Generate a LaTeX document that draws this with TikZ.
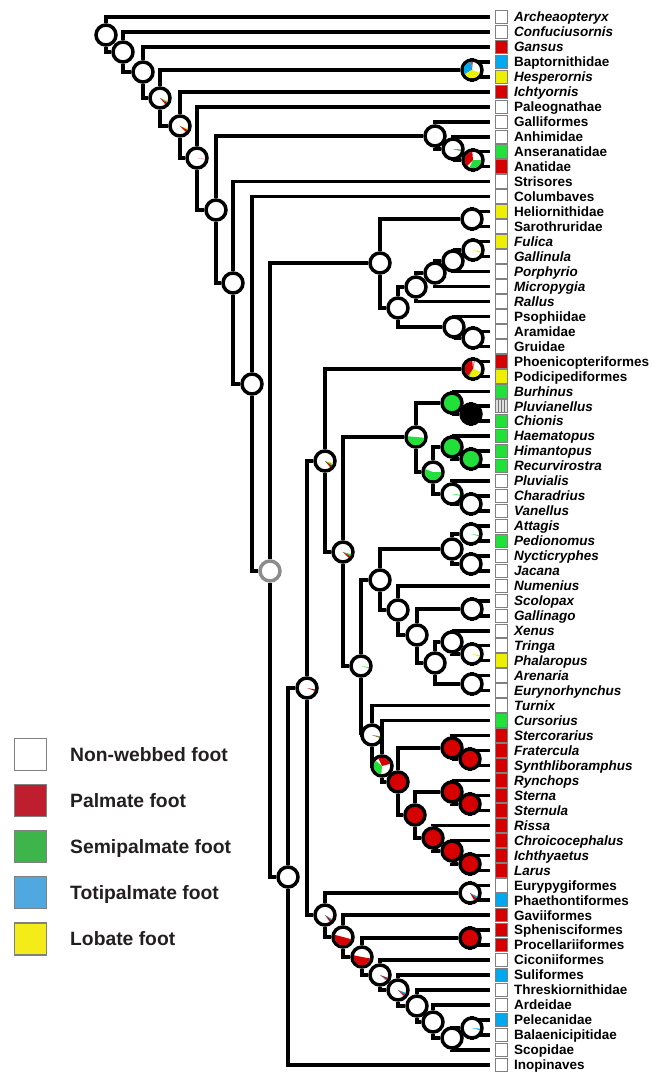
\documentclass[tikz,border=0pt]{standalone}
\usepackage{fontspec}
\setmainfont{Liberation Sans}
\usepackage{tikz}
\usetikzlibrary{patterns}
\definecolor{pred}{HTML}{D70000}
\definecolor{pgreen}{HTML}{22E03A}
\definecolor{pblue}{HTML}{00A8F0}
\definecolor{pyellow}{HTML}{EEEE00}
\definecolor{lred}{HTML}{BE1E2D}
\definecolor{lgreen}{HTML}{3DB54A}
\definecolor{lblue}{HTML}{4FA9E0}
\definecolor{lyellow}{HTML}{F3EC19}
\definecolor{ltext}{HTML}{231F20}
\pgfdeclarelayer{background}
\pgfsetlayers{background,main}

\tikzstyle{branch} = [draw, line width=3.5pt]
\tikzstyle{nd} = [circle, draw, fill=white, line width=3.5pt, minimum size=20pt, inner sep=0pt]
\tikzstyle{tipbox} = [rectangle, draw=gray, line width=1pt, minimum width=12.5pt,
minimum height=13.5pt, inner sep=0pt, outer xsep=5.5pt]
\tikzstyle{tiplab} = [anchor=base west, inner sep=0pt, font=\fontsize{13.5}{15}\selectfont\bfseries]
\tikzstyle{legbox} = [rectangle, draw=gray, line width=1.2pt, minimum size=32pt, inner sep=0pt]
\tikzstyle{leglab} = [anchor=base west, inner sep=0pt, text=ltext, font=\fontsize{19.3}{21}\selectfont\bfseries]
% pie slice inside a node circle
\newcommand{\pw}[4]{\fill[#4] (#1.center) -- ++(#2:8.3pt) arc[start angle=#2, end angle=#3, radius=8.3pt] -- cycle;}

\begin{document}
\begin{tikzpicture}[x=1pt, y=1pt]
	\useasboundingbox (0,0) rectangle (651,-1074);
	
	% Tips
	\foreach \lab/\col [count=\i] in {\textit{Archeaopteryx}/white, \textit{Confuciusornis}/white,
		\textit{Gansus}/pred, Baptornithidae/pblue, \textit{Hesperornis}/pyellow, \textit{Ichtyornis}/pred,
		Paleognathae/white, Galliformes/white, Anhimidae/white, Anseranatidae/pgreen, Anatidae/pred,
		Strisores/white, Columbaves/white, Heliornithidae/pyellow, Sarothruridae/white,
		\textit{Fulica}/pyellow, \textit{Gallinula}/white, \textit{Porphyrio}/white, \textit{Micropygia}/white,
		\textit{Rallus}/white, Psophiidae/white, Aramidae/white, Gruidae/white,
		Phoenicopteriformes/pred, Podicipediformes/pyellow, \textit{Burhinus}/pgreen,
		\textit{Pluvianellus}/gray!25, \textit{Chionis}/pgreen, \textit{Haematopus}/pgreen,
		\textit{Himantopus}/pgreen, \textit{Recurvirostra}/pgreen, \textit{Pluvialis}/white,
		\textit{Charadrius}/white, \textit{Vanellus}/white, \textit{Attagis}/white, \textit{Pedionomus}/pgreen,
		\textit{Nycticryphes}/white, \textit{Jacana}/white, \textit{Numenius}/white, \textit{Scolopax}/white,
		\textit{Gallinago}/white, \textit{Xenus}/white, \textit{Tringa}/white, \textit{Phalaropus}/pyellow,
		\textit{Arenaria}/white, \textit{Eurynorhynchus}/white, \textit{Turnix}/white, \textit{Cursorius}/pgreen,
		\textit{Stercorarius}/pred, \textit{Fratercula}/pred, \textit{Synthliboramphus}/pred,
		\textit{Rynchops}/pred, \textit{Sterna}/pred, \textit{Sternula}/pred, \textit{Rissa}/pred,
		\textit{Chroicocephalus}/pred, \textit{Ichthyaetus}/pred, \textit{Larus}/pred,
		Eurypygiformes/white, Phaethontiformes/pblue, Gaviiformes/pred, Sphenisciformes/pred,
		Procellariiformes/pred, Ciconiiformes/white, Suliformes/pblue, Threskiornithidae/white,
		Ardeidae/white, Pelecanidae/pblue, Balaenicipitidae/white, Scopidae/white, Inopinaves/white} {
		\pgfmathsetmacro{\yy}{17+14.97*(\i-1)}
		\node [tipbox, fill=\col] (t\i) at (501.5,-\yy) {};
		\node [tiplab] (l\i) at (514,-\yy-4.8) {\lab};
	}
	\node [tipbox, pattern=vertical lines, pattern color=gray!90!black] at (t27.center) {};
	
	% Internal nodes
	\node [nd] (N1) at (106,-35) {};
	\node [nd] (N2) at (123,-52) {};
	\node [nd] (N3) at (143,-72) {};
	\node [nd] (N4) at (160,-98) {};
	\node [nd] (H) at (472,-70) {};
	\node [nd] (N5) at (180,-126) {};
	\node [nd] (N6) at (197,-158) {};
	\node [nd] (N7) at (216,-210) {};
	\node [nd] (G) at (435,-136) {};
	\node [nd] (G2) at (453,-149) {};
	\node [nd] (G3) at (473,-160) {};
	\node [nd] (N8) at (233,-283) {};
	\node [nd] (N9) at (252,-384) {};
	\node [nd, draw=black!45] (N10) at (270,-571) {};
	\node [nd] (R) at (380,-263) {};
	\node [nd] (R1) at (472,-219) {};
	\node [nd] (R2) at (398,-308) {};
	\node [nd] (R3) at (416,-287) {};
	\node [nd] (R4) at (435,-273) {};
	\node [nd] (R5) at (453,-261) {};
	\node [nd] (R6) at (473,-250) {};
	\node [nd] (R7) at (454,-327) {};
	\node [nd] (R8) at (473,-338) {};
	\node [nd] (N11) at (288,-877) {};
	\node [nd] (N12) at (307,-688) {};
	\node [nd] (M) at (325,-461) {};
	\node [nd] (Mir) at (473,-369) {};
	\node [nd] (C1) at (343,-552) {};
	\node [nd] (C2) at (416,-437) {};
	\node [nd, fill=pgreen] (B1) at (452,-403) {};
	\node [nd, fill=black] (B2) at (471,-414) {};
	\node [nd] (C2b) at (433,-472) {};
	\node [nd, fill=pgreen] (Hm) at (452,-447) {};
	\node [nd, fill=pgreen] (HR) at (471,-459) {};
	\node [nd] (P) at (452,-494) {};
	\node [nd] (CV) at (471,-504) {};
	\node [nd] (C3) at (361,-666) {};
	\node [nd] (S0) at (380,-580) {};
	\node [nd] (J0) at (452,-549) {};
	\node [nd] (J1) at (471,-534) {};
	\node [nd] (J2) at (471,-564) {};
	\node [nd] (S1) at (398,-610) {};
	\node [nd] (S2) at (417,-635) {};
	\node [nd] (S3) at (472,-609) {};
	\node [nd] (S4) at (435,-663) {};
	\node [nd] (S5) at (452,-642) {};
	\node [nd] (S6) at (472,-654) {};
	\node [nd] (S7) at (472,-684) {};
	\node [nd] (L0) at (372,-735) {};
	\node [nd] (L1) at (382,-766) {};
	\node [nd, fill=pred] (L2) at (398,-782) {};
	\node [nd, fill=pred] (A1) at (452,-748) {};
	\node [nd, fill=pred] (A2) at (470,-759) {};
	\node [nd, fill=pred] (L3) at (415,-815) {};
	\node [nd, fill=pred] (T1) at (452,-792) {};
	\node [nd, fill=pred] (T2) at (470,-804) {};
	\node [nd, fill=pred] (L4) at (433,-838) {};
	\node [nd, fill=pred] (L5) at (452,-851) {};
	\node [nd, fill=pred] (L6) at (470,-864) {};
	\node [nd] (N13) at (325,-915) {};
	\node [nd] (E) at (470,-893) {};
	\node [nd] (Aq1) at (343,-937) {};
	\node [nd, fill=pred] (SP) at (470,-938) {};
	\node [nd] (Aq2) at (362,-957) {};
	\node [nd] (Aq3) at (380,-975) {};
	\node [nd] (Aq4) at (398,-990) {};
	\node [nd] (Aq5) at (417,-1006) {};
	\node [nd] (Aq6) at (433,-1022) {};
	\node [nd] (Aq7) at (452,-1038) {};
	\node [nd] (PB) at (472,-1028) {};
	
	% Branches
	\begin{pgfonlayer}{background}
	\foreach \a/\b in {N1/t1, N1/N2, N2/t2, N2/N3, N3/t3, N3/N4, N4/H, N4/N5, H/t4, H/t5,
		N5/t6, N5/N6, N6/t7, N6/N7, N7/G, N7/N8, G/t8, G/G2, G2/t9, G2/G3, G3/t10, G3/t11,
		N8/t12, N8/N9, N9/t13, N9/N10, N10/R, N10/N11, R/R1, R/R2, R1/t14, R1/t15,
		R2/R3, R2/R7, R3/R4, R3/t20, R4/R5, R4/t19, R5/R6, R5/t18, R6/t16, R6/t17,
		R7/t21, R7/R8, R8/t22, R8/t23, N11/N12, N11/t71, N12/M, N12/N13, M/Mir, M/C1,
		Mir/t24, Mir/t25, C1/C2, C1/C3, C2/B1, C2/C2b, B1/t26, B1/B2, B2/t27, B2/t28,
		C2b/Hm, C2b/P, Hm/t29, Hm/HR, HR/t30, HR/t31, P/t32, P/CV, CV/t33, CV/t34,
		C3/S0, C3/L0, S0/J0, S0/S1, J0/J1, J0/J2, J1/t35, J1/t36, J2/t37, J2/t38,
		S1/t39, S1/S2, S2/S3, S2/S4, S3/t40, S3/t41, S4/S5, S4/S7, S5/t42, S5/S6,
		S6/t43, S6/t44, S7/t45, S7/t46, L0/t47, L0/L1, L1/t48, L1/L2, L2/A1, L2/L3,
		A1/t49, A1/A2, A2/t50, A2/t51, L3/T1, L3/L4, T1/t52, T1/T2, T2/t53, T2/t54,
		L4/t55, L4/L5, L5/t56, L5/L6, L6/t57, L6/t58, N13/E, N13/Aq1, E/t59, E/t60,
		Aq1/t61, Aq1/Aq2, Aq2/SP, Aq2/Aq3, SP/t62, SP/t63, Aq3/t64, Aq3/Aq4,
		Aq4/t65, Aq4/Aq5, Aq5/t66, Aq5/Aq6, Aq6/t67, Aq6/Aq7, Aq7/PB, Aq7/t70,
		PB/t68, PB/t69}
		\path [branch] (\a) |- (\b);
	\end{pgfonlayer}
	
	% Ancestral state pies
	\pw{H}{95}{210}{pblue}
	\pw{H}{210}{340}{pyellow}
	\pw{H}{85}{95}{pred}
	\pw{G3}{95}{225}{pred}
	\pw{G3}{245}{360}{pgreen}
	\pw{G2}{-5}{-12}{pred}
	\pw{G2}{-12}{-16}{pgreen}
	\pw{N4}{-20}{-28}{pyellow}
	\pw{N4}{-28}{-36}{pblue}
	\pw{N4}{-36}{-50}{pred}
	\pw{N5}{-20}{-28}{pyellow}
	\pw{N5}{-28}{-45}{pred}
	\pw{N6}{-5}{-12}{pred!40}
	\pw{R6}{-10}{-20}{pyellow}
	\pw{Mir}{95}{235}{pred}
	\pw{Mir}{235}{240}{pgreen}
	\pw{Mir}{240}{245}{pblue}
	\pw{Mir}{245}{340}{pyellow}
	\pw{Mir}{78}{84}{pred}
	\pw{M}{-15}{-22}{pyellow}
	\pw{M}{-22}{-35}{pgreen}
	\pw{M}{-35}{-50}{pred}
	\pw{N12}{-10}{-20}{pred}
	\pw{C1}{-15}{-30}{pgreen}
	\pw{C1}{-30}{-45}{pred}
	\pw{C2}{175}{355}{pgreen}
	\pw{C2b}{160}{360}{pgreen}
	\pw{P}{-5}{-12}{pgreen}
	\pw{J1}{-8}{-15}{pgreen}
	\pw{C3}{-8}{-15}{pgreen}
	\pw{S6}{-10}{-20}{pyellow}
	\pw{L0}{-8}{-15}{pgreen}
	\pw{L0}{-15}{-20}{pred}
	\pw{L1}{15}{115}{pred}
	\pw{L1}{140}{265}{pgreen}
	\pw{N13}{-30}{-40}{pblue}
	\pw{N13}{-40}{-55}{pred}
	\pw{E}{-25}{-40}{pblue}
	\pw{E}{-40}{-60}{pred}
	\pw{Aq1}{165}{345}{pred}
	\pw{Aq2}{168}{350}{pred}
	\pw{Aq3}{-20}{-35}{pred}
	\pw{Aq3}{-35}{-42}{pblue}
	\pw{Aq4}{-20}{-35}{pblue}
	\pw{Aq4}{-35}{-45}{pred}
	\pw{PB}{-5}{-15}{pblue}
	
	% Legend
	\foreach \lab/\col [count=\i] in {Non-webbed foot/white, Palmate foot/lred,
		Semipalmate foot/lgreen, Totipalmate foot/lblue, Lobate foot/lyellow} {
		\pgfmathsetmacro{\yy}{754.5+46.1*(\i-1)}
		\node [legbox, fill=\col] (k\i) at (30.5,-\yy) {};
		\node [leglab] (kl\i) at (70,-\yy-6.9) {\lab};
	}
\end{tikzpicture}
\end{document}
